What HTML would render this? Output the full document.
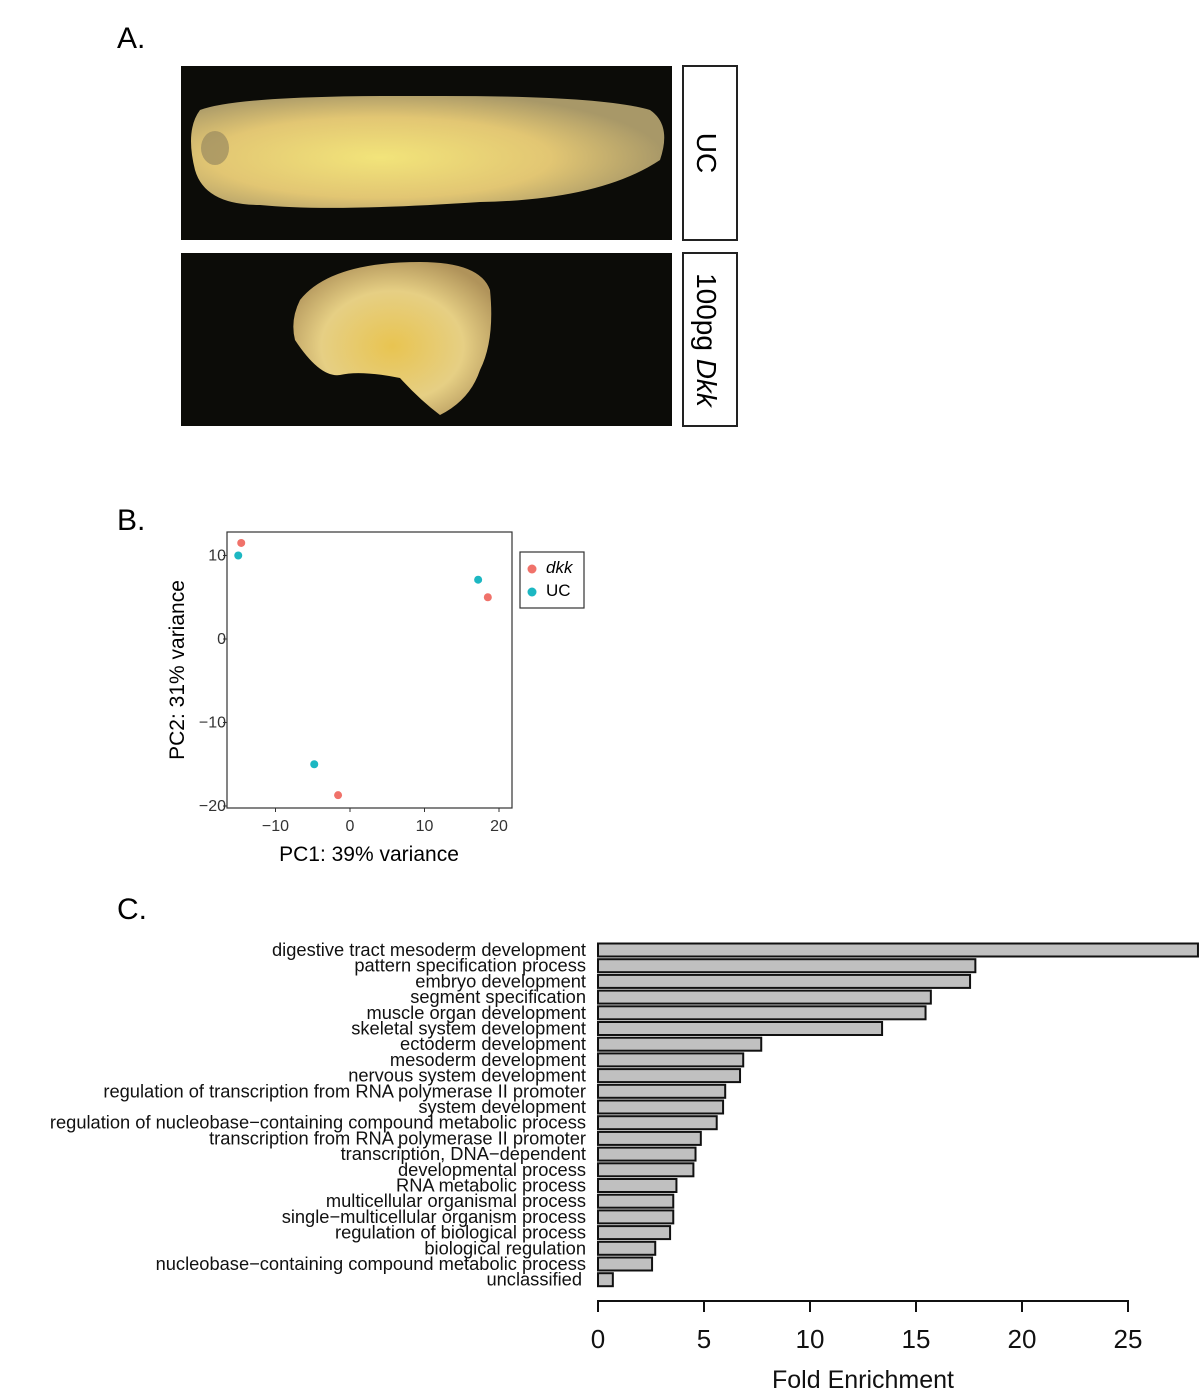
<!DOCTYPE html>
<html><head><meta charset="utf-8"><style>
body{margin:0;background:#fff;width:1200px;height:1396px;overflow:hidden;font-family:"Liberation Sans",sans-serif}
svg{position:absolute;left:0;top:0}
</style></head><body>
<svg width="1200" height="1396" viewBox="0 0 1200 1396">
<defs>
<radialGradient id="g1" cx="0.4" cy="0.55" r="0.6"><stop offset="0" stop-color="#f2e47a"/><stop offset="0.6" stop-color="#e2c673"/><stop offset="1" stop-color="#a89868"/></radialGradient>
<radialGradient id="g2" cx="0.5" cy="0.55" r="0.6"><stop offset="0" stop-color="#e8c451"/><stop offset="0.6" stop-color="#e6cf84"/><stop offset="1" stop-color="#b0935a"/></radialGradient>
</defs>
<text x="117" y="48" font-size="30">A.</text>
<rect x="181" y="66" width="491" height="174" fill="#0c0c08"/>
<path d="M200,110 Q240,95 420,96 Q600,95 650,110 Q672,125 660,160 Q600,200 480,202 Q330,212 260,205 Q205,205 195,170 Q185,130 200,110Z" fill="url(#g1)"/>
<ellipse cx="215" cy="148" rx="14" ry="17" fill="#9a8a60" opacity="0.7"/>
<rect x="181" y="253" width="491" height="173" fill="#0c0c08"/>
<path d="M300,300 Q330,262 420,262 Q480,262 490,290 Q495,340 480,370 Q470,400 440,415 Q420,400 400,378 Q360,370 340,375 Q320,378 295,340 Q290,320 300,300Z" fill="url(#g2)"/>
<rect x="683" y="66" width="54" height="174" fill="#fff" stroke="#222" stroke-width="2"/>
<text transform="translate(697,153) rotate(90)" font-size="28" text-anchor="middle">UC</text>
<rect x="683" y="253" width="54" height="173" fill="#fff" stroke="#222" stroke-width="2"/>
<text transform="translate(697,340) rotate(90)" font-size="28" text-anchor="middle">100pg <tspan font-style="italic">Dkk</tspan></text>

<text x="117" y="530" font-size="30">B.</text>
<g id="pca"></g>
<text x="117" y="919" font-size="30">C.</text>
<g id="bars"></g>
</svg>
<script>
const pcaX=[-14.6,-15,17.2,18.5,-4.8,-1.6];
const pcaY=[11.5,10,7.1,5,-15,-18.7];
const pcaGroup=["dkk","UC","UC","dkk","UC","dkk"];
const pcaXTicks=[-10,0,10,20];
const pcaYTicks=[10,0,-10,-20];
const goTerms=["digestive tract mesoderm development","pattern specification process","embryo development","segment specification","muscle organ development","skeletal system development","ectoderm development","mesoderm development","nervous system development","regulation of transcription from RNA polymerase II promoter","system development","regulation of nucleobase\u2212containing compound metabolic process","transcription from RNA polymerase II promoter","transcription, DNA\u2212dependent","developmental process","RNA metabolic process","multicellular organismal process","single\u2212multicellular organism process","regulation of biological process","biological regulation","nucleobase\u2212containing compound metabolic process","unclassified"];
const foldEnrichment=[28.3,17.8,17.55,15.7,15.45,13.4,7.7,6.85,6.7,6.0,5.9,5.6,4.85,4.6,4.5,3.7,3.55,3.55,3.4,2.7,2.55,0.7];
const feTicks=[0,5,10,15,20,25];
const NS="http://www.w3.org/2000/svg";
function mk(p,t,a,txt){const e=document.createElementNS(NS,t);for(const k in a)e.setAttribute(k,a[k]);if(txt!=null)e.textContent=txt;p.appendChild(e);return e;}
// PCA
const pg=document.getElementById('pca');
const px=v=>350+v*7.45, py=v=>639-v*8.35;
let e=mk(pg,'rect',{x:227,y:532,width:285,height:276,fill:'#fff',stroke:'#333','stroke-width':1.2});


pcaXTicks.forEach(t=>{mk(pg,'line',{x1:px(t),x2:px(t),y1:808,y2:812,stroke:'#333'});
 e=mk(pg,'text',{x:px(t),y:831,'font-size':16,'text-anchor':'middle',fill:'#333'},t<0?'\u2212'+(-t):t);
 
 });
pcaYTicks.forEach(t=>{mk(pg,'line',{x1:223,x2:227,y1:py(t),y2:py(t),stroke:'#333'});
 e=mk(pg,'text',{x:226,y:py(t)+5,'font-size':16,'text-anchor':'end',fill:'#333'},t<0?'\u2212'+(-t):t);
 
 });
e=mk(pg,'text',{x:369,y:861,'font-size':21,'text-anchor':'middle'},'PC1: 39% variance');


e=mk(pg,'text',{transform:'translate(184,670) rotate(-90)','font-size':21,'text-anchor':'middle'},'PC2: 31% variance');


const col={dkk:'#f0726a',UC:'#1cb7c2'};
pcaX.forEach((v,i)=>{e=mk(pg,'circle',{cx:px(v),cy:py(pcaY[i]),r:4,fill:col[pcaGroup[i]]});
 
 });
e=mk(pg,'rect',{x:520,y:552,width:64,height:56,fill:'#fff',stroke:'#333','stroke-width':1.2});


mk(pg,'circle',{cx:532,cy:569,r:4.5,fill:col.dkk});
e=mk(pg,'text',{x:546,y:573,'font-size':17,'font-style':'italic'},'dkk');


mk(pg,'circle',{cx:532,cy:592,r:4.5,fill:col.UC});
e=mk(pg,'text',{x:546,y:596,'font-size':17},'UC');


// Bars
const bg=document.getElementById('bars');
const bx=v=>598+v*21.2, by=i=>950+i*15.7;
goTerms.forEach((t,i)=>{
 e=mk(bg,'rect',{x:598,y:by(i)-6.5,width:bx(foldEnrichment[i])-598,height:13,fill:'#c0c0c0',stroke:'#111','stroke-width':2});
 
 
 e=mk(bg,'text',{x:i==goTerms.length-1?582:586,y:by(i)+6,'font-size':18.3,'text-anchor':'end',fill:'#111'},t);
 
 
});
mk(bg,'line',{x1:bx(0),x2:bx(25),y1:1301,y2:1301,stroke:'#111','stroke-width':2});
feTicks.forEach(t=>{mk(bg,'line',{x1:bx(t),x2:bx(t),y1:1300,y2:1312,stroke:'#111','stroke-width':2});
 e=mk(bg,'text',{x:bx(t),y:1348,'font-size':26,'text-anchor':'middle',fill:'#111'},t);
 
 });
e=mk(bg,'text',{x:863,y:1388,'font-size':25,'text-anchor':'middle',fill:'#111'},'Fold Enrichment');


</script>
</body></html>
